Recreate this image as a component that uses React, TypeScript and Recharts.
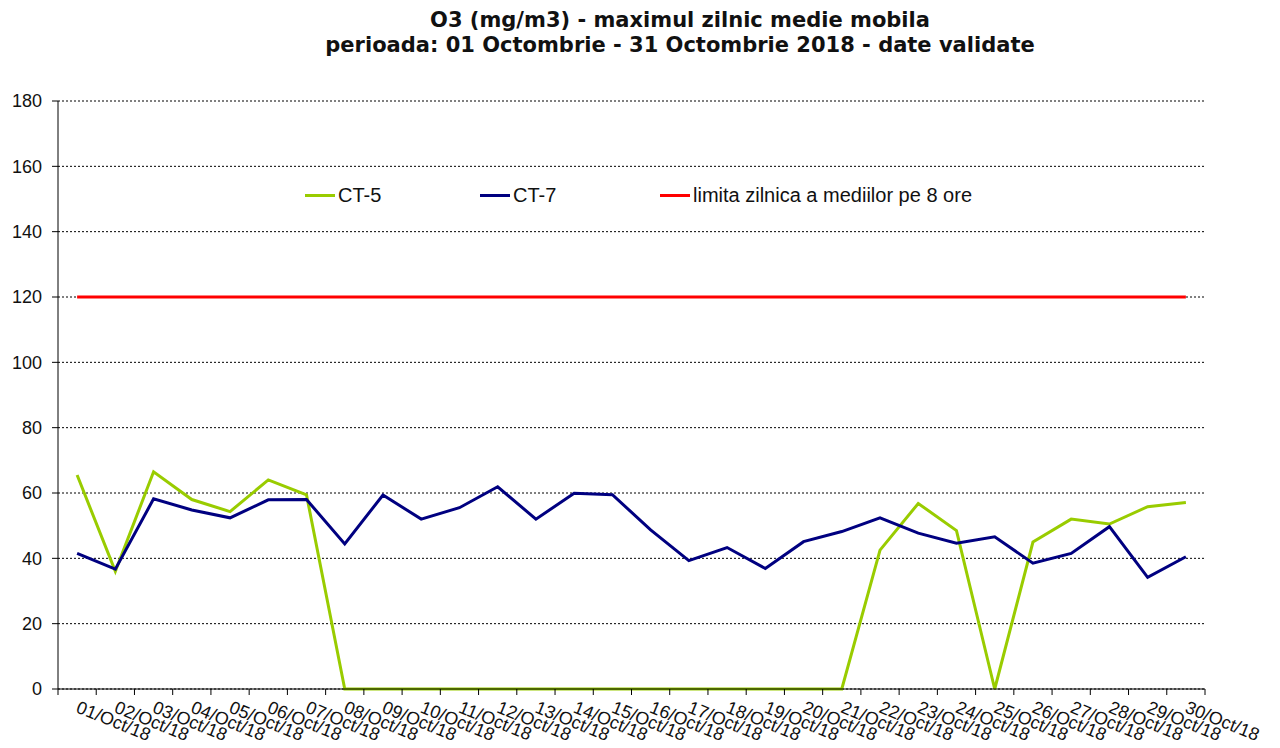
import { LineChart, Line, XAxis, YAxis, CartesianGrid } from "recharts";

const days = [
  "01/Oct/18", "02/Oct/18", "03/Oct/18", "04/Oct/18", "05/Oct/18", "06/Oct/18",
  "07/Oct/18", "08/Oct/18", "09/Oct/18", "10/Oct/18", "11/Oct/18", "12/Oct/18",
  "13/Oct/18", "14/Oct/18", "15/Oct/18", "16/Oct/18", "17/Oct/18", "18/Oct/18",
  "19/Oct/18", "20/Oct/18", "21/Oct/18", "22/Oct/18", "23/Oct/18", "24/Oct/18",
  "25/Oct/18", "26/Oct/18", "27/Oct/18", "28/Oct/18", "29/Oct/18", "30/Oct/18",
];

const ct5 = [
  65.5, 36, 66.5, 58, 54.3, 64, 59.4, 0, 0, 0, 0, 0, 0, 0, 0,
  0, 0, 0, 0, 0, 0, 42.5, 56.8, 48.5, 0, 45, 52, 50.5, 55.8, 57.1,
];

const ct7 = [
  41.5, 36.7, 58.2, 54.8, 52.4, 57.9, 58, 44.4, 59.4, 52, 55.5, 61.9, 52, 59.9, 59.5,
  48.7, 39.3, 43.3, 36.9, 45.1, 48.2, 52.4, 47.7, 44.6, 46.6, 38.5, 41.5, 49.7, 34.2, 40.5,
];

const limit = days.map(() => 120);

const yTicks = [0, 20, 40, 60, 80, 100, 120, 140, 160, 180];

const legendItems = [
  { name: "CT-5", color: "#99cc00", left: 297 },
  { name: "CT-7", color: "#000080", left: 472 },
  { name: "limita zilnica a mediilor pe 8 ore", color: "#ff0000", left: 652 },
];

const data = days.map((d, i) => ({ x: i + 0.5, day: d, ct5: ct5[i], ct7: ct7[i], limit: limit[i] }));

const W = 1264;
const H = 740;
const M = { top: 93, right: 67, left: 0, bottom: 0 };
const Y_W = 50;
const PLOT_W = W - M.left - M.right - Y_W;
const HALF = PLOT_W / days.length / 2;

const font = "'Liberation Sans', Arial, sans-serif";

// labels sit at the middle of each day, tick marks at the day boundaries
const XTick = (props: any) => {
  const { x, y, payload } = props;
  const i = payload.value;
  if (i >= days.length) return <g />;
  const tx = x + HALF - 2;
  const ty = y + 15;
  return (
    <text
      x={tx}
      y={ty}
      transform={`rotate(22, ${tx}, ${ty})`}
      fontSize={18}
      fontFamily={font}
      fill="#111"
      textAnchor="start"
    >
      {days[i]}
    </text>
  );
};

export default function App() {
  return (
    <div style={{ position: "relative", width: W, height: H, background: "#fff" }}>
      <div
        style={{
          position: "absolute",
          top: 0,
          left: 272,
          width: 800,
          textAlign: "center",
          fontFamily: "'DejaVu Sans', Tahoma, sans-serif",
          fontWeight: "bold",
          fontSize: 21,
          lineHeight: "25px",
          color: "#111",
          zIndex: 2,
        }}
      >
        <div>O3 (mg/m3) - maximul zilnic medie mobila</div>
        <div>perioada: 01 Octombrie - 31 Octombrie 2018 - date validate</div>
      </div>
      <div style={{ position: "absolute", top: 175, left: 0, width: W, height: 24, fontFamily: font, fontSize: 20, color: "#111", zIndex: 2 }}>
        {legendItems.map((it) => (
          <div key={it.name} style={{ position: "absolute", left: it.left, top: 0, display: "flex", alignItems: "center", lineHeight: "24px" }}>
            <span style={{ display: "inline-block", width: 30, height: 3, background: it.color, marginRight: 3 }} />
            <span>{it.name}</span>
          </div>
        ))}
      </div>
      <LineChart width={W} height={H} data={data} margin={M}>
        <CartesianGrid vertical={false} stroke="#000" strokeDasharray="2 2" strokeWidth={1} />
        <XAxis
          dataKey="x"
          type="number"
          domain={[0, days.length]}
          ticks={days.map((_, i) => i).concat([days.length])}
          interval={0}
          tick={<XTick />}
          tickLine={{ stroke: "#000" }}
          tickSize={6}
          axisLine={{ stroke: "#000" }}
          height={59}
        />
        <YAxis
          domain={[0, 180]}
          ticks={yTicks}
          width={Y_W}
          axisLine={{ stroke: "#000" }}
          tickLine={{ stroke: "#000" }}
          tickSize={6}
          tickMargin={10}
          tick={{ fontSize: 18, fontFamily: font, fill: "#111" }}
        />
        <Line dataKey="ct5" name="CT-5" type="linear" stroke="#99cc00" strokeWidth={3} dot={false} isAnimationActive={false} />
        <Line dataKey="ct7" name="CT-7" type="linear" stroke="#000080" strokeWidth={3} dot={false} isAnimationActive={false} />
        <Line dataKey="limit" name="limita zilnica a mediilor pe 8 ore" type="linear" stroke="#ff0000" strokeWidth={3} dot={false} isAnimationActive={false} />
      </LineChart>
    </div>
  );
}
